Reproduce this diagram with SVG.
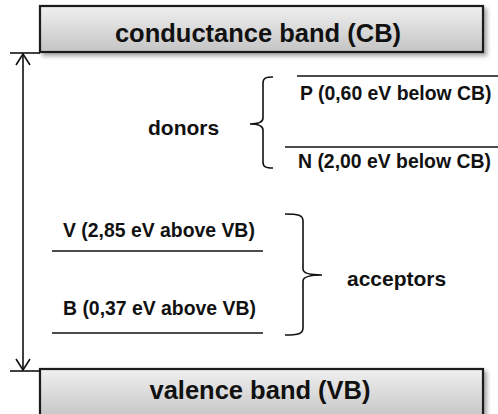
<svg xmlns="http://www.w3.org/2000/svg" width="498" height="414" viewBox="0 0 498 414">
<defs>
<linearGradient id="g" x1="0" y1="0" x2="0" y2="1">
<stop offset="0" stop-color="#f0f0f0"/>
<stop offset="1" stop-color="#c4c4c4"/>
</linearGradient>
<filter id="sh" x="-5%" y="-20%" width="115%" height="150%">
<feDropShadow dx="3" dy="3" stdDeviation="2" flood-color="#000" flood-opacity="0.35"/>
</filter>
<marker id="ah" viewBox="0 0 16 16" refX="15" refY="8" markerWidth="16" markerHeight="16" markerUnits="userSpaceOnUse" orient="auto-start-reverse">
<path d="M4,1 L15,8 L4,15" fill="none" stroke="#111" stroke-width="1.6"/>
</marker>
<style>
.band{fill:url(#g);stroke:#1a1a1a;stroke-width:2.2;filter:url(#sh)}
.bt{font-family:"Liberation Sans",Arial,sans-serif;font-weight:bold;font-size:25.5px;fill:#111;text-anchor:middle}
.lt{font-family:"Liberation Sans",Arial,sans-serif;font-weight:bold;font-size:19.4px;fill:#111}
.gt{font-family:"Liberation Sans",Arial,sans-serif;font-weight:bold;font-size:21px;fill:#111}
.ln{stroke:#111;stroke-width:1.6;fill:none}
</style>
</defs>
<g id="cb">
<rect class="band" x="40" y="6" width="443" height="46"/>
<text class="bt" x="258" y="42">conductance band (CB)</text>
</g>
<g id="vb">
<rect class="band" x="40" y="369" width="443" height="50"/>
<text class="bt" x="260" y="399">valence band (VB)</text>
</g>
<g id="connectors">
<line class="ln" x1="10" y1="53" x2="40" y2="53"/>
<line class="ln" x1="10" y1="371" x2="40" y2="371"/>
<line class="ln" x1="23" y1="54" x2="23" y2="370" marker-start="url(#ah)" marker-end="url(#ah)"/>
</g>
<g id="donor-P">
<line class="ln" x1="297" y1="76" x2="498" y2="76"/>
<text class="lt" x="300" y="100">P (0,60 eV below CB)</text>
</g>
<g id="donor-N">
<line class="ln" x1="285" y1="147" x2="498" y2="147"/>
<text class="lt" x="298" y="168">N (2,00 eV below CB)</text>
</g>
<g id="acceptor-V">
<line class="ln" x1="52" y1="251" x2="263" y2="251"/>
<text class="lt" x="63" y="237">V (2,85 eV above VB)</text>
</g>
<g id="acceptor-B">
<line class="ln" x1="52" y1="333" x2="263" y2="333"/>
<text class="lt" x="63" y="315">B (0,37 eV above VB)</text>
</g>
<g id="donors">
<path class="ln" d="M273,77 C266,77 263,78 263,83 L263,118 C263,122 260,124 250,124 C260,124 263,126 263,130 L263,162 C263,167 266,168 273,168"/>
<text class="gt" x="148" y="135">donors</text>
</g>
<g id="acceptors">
<path class="ln" d="M285,214 C298,214 303,215 303,221 L303,269 C303,273 309,275 322,275 C309,275 303,277 303,281 L303,328 C303,334 298,335 285,335"/>
<text class="gt" x="347" y="286">acceptors</text>
</g>
</svg>
